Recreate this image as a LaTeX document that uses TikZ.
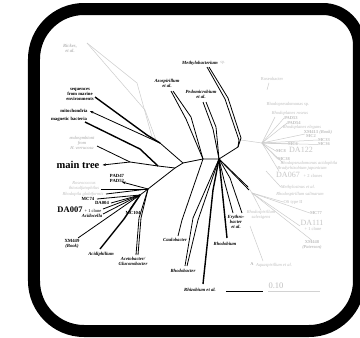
\documentclass[tikz,border=0pt]{standalone}
\usepackage{fontspec}
\setmainfont{Liberation Serif}
\usetikzlibrary{arrows.meta}
\tikzset{
  lb/.style={font=\fontsize{4.7}{5}\selectfont\bfseries\itshape, inner sep=0pt, align=center},
  lbr/.style={font=\fontsize{4.7}{5}\selectfont\bfseries, inner sep=0pt, align=center},
  glb/.style={font=\fontsize{4.5}{4.8}\selectfont\itshape, inner sep=0pt, align=center, text=gray!50},
  glr/.style={font=\fontsize{4.5}{4.8}\selectfont\bfseries, inner sep=0pt, align=center, text=gray!50},
  gln/.style={font=\fontsize{4.5}{4.8}\selectfont, inner sep=0pt, align=center, text=gray!50},
  big/.style={font=\fontsize{8.5}{8.5}\selectfont\bfseries, inner sep=0pt},
  gbig/.style={font=\fontsize{8}{8}\selectfont, inner sep=0pt, text=gray!45},
  br/.style={draw=black, line width=0.8pt},
  thk/.style={draw=black, line width=1.4pt},
  gbr/.style={draw=gray!40, line width=0.5pt},
  arr/.style={draw=black, line width=0.8pt, -{Stealth[length=3.5pt,width=2.6pt]}},
  framebox/.style={line width=12pt, draw=black},
}
\begin{document}
\begin{tikzpicture}[x=1pt,y=-1pt]
\useasboundingbox (0,0) rectangle (360,338);
\fill[white] (0,0) rectangle (360,338);
\begin{scope}
\clip (0,0) rectangle (360,338);
\draw[framebox] (84,9) -- (323,9) arc[start angle=-90,end angle=0,radius=36]
  -- (359,281) arc[start angle=0,end angle=90,radius=50]
  -- (84,331) arc[start angle=90,end angle=180,radius=50]
  -- (34,59) arc[start angle=180,end angle=270,radius=50] -- cycle;
\end{scope}

% hubs
\coordinate (R1) at (183,163);
\coordinate (R2) at (203,159);
\coordinate (R3) at (219,159);
\coordinate (UL) at (160,143);
\coordinate (LL) at (158,166);
\coordinate (L0) at (175,168);
\coordinate (LP) at (148,189);
\coordinate (LQ) at (140,195);
\coordinate (J) at (130,162);
\coordinate (M1) at (238,147);
\coordinate (E1) at (248,187);
\coordinate (E2) at (249,190);
\coordinate (GA) at (262,143);
\coordinate (GB) at (252,193);

\draw[br] (UL) -- (R1) -- (R2) -- (R3);
\draw[br] (LL) -- (L0) -- (R1);
\draw[br] (L0) -- (LP) -- (LQ);

% left labels
\node[lb, text=gray!55] (rick) at (70,48) {Rickes,\\et al.};
\node[lbr] (seq) at (80,94) {sequences\\from marine\\environments};
\node[lbr] (mito) at (74,111) {mitochondria};
\node[lbr] (magn) at (69,119) {magnetic bacteria};
\node[glb, text=gray!70] (endo) at (82,143) {endosymbiont\\from\\H. verrucosa};
\node[font=\fontsize{10.5}{11}\selectfont\bfseries, inner sep=0pt] (main) at (78,165) {main tree};

\draw[gbr] (87,43) -- (137,83) -- (152,137) -- (UL);
\draw[gbr] (87,43) -- (145,110) -- (156,140) -- (UL);
\draw[thk] (95,97) -- (147,135) -- (UL);
\draw[arr] (UL) -- ([xshift=2pt]mito.east);
\draw[thk] (85,122) -- (140,149) -- (LL);
\draw[br] (97,146) -- (J);
\draw[br] (J) -- (LL);
\draw[arr] (J) -- ([xshift=3pt]main.east);

% upper labels
\node[lb] (azo) at (167,83) {Azospirillum\\et al.};
\draw[br] (171,91) -- (186,119) -- (R2);
\draw[br] (173,91) -- (191,117) -- (R2);
\node[lb] (pedo) at (201,94) {Pedomicrobium\\et al.};
\draw[br] (203,102) -- (213,129) -- (R3);
\draw[br] (206,102) -- (216,127) -- (R3);
\node[lb] (meth) at (200,63) {Methylobacterium};
\node[gln] (methg) at (223,63) {sp.};
\draw[br] (207,67) -- (225,99) -- (239,140) -- (M1) -- (R3);
\draw[br] (209,67) -- (228,98) -- (241,138) -- (M1);

% lower left
\node[lbr] (pad) at (117,178) {PAD47\\PAD52};
\draw[arr] (LP) -- (122,182);
\node[glb] (roseo) at (84,186) {Roseococcus\\thiosulfatophilus};
\draw[br] (LP) -- (101,189);
\node[glb] (rhpila) at (83,194) {Rhodopila globiformis};
\draw[br] (LP) -- (106,194);
\node[lbr] (mc74) at (88,199) {MC74};
\draw[br] (LQ) -- (97,199);
\node[lbr] (da004) at (102,203) {DA004};
\draw[br] (LQ) -- (111,203);
\node[big] (da007) at (70,210) {DA007};
\node[font=\fontsize{4.5}{4.8}\selectfont, inner sep=0pt] (clone1) at (93,210.5) {+ 1 clone};
\draw[br] (LQ) -- (103,209);
\node[lb] (acido) at (92,216) {Acidocella};
\draw[br] (LQ) -- (103,214);
\node[lbr] (mc104) at (133,213) {MC104};
\draw[br] (LQ) -- (130,209);
\node[lbr] (xm449) at (72,244) {XM449\\\textit{(Book)}};
\draw[br] (LQ) -- (78,238);
\node[lb] (acidi) at (101,254) {Acidiphilium};
\draw[thk] (100,249) -- (124,219) -- (LQ);
\node[lb] (aceto) at (133,261) {Acetobacter/\\Gluconobacter};
\draw[br] (136,255) -- (139,218) -- (LP);
\draw[br] (138,255) -- (141,218) -- (LP);

% bottom
\node[lb] (caulo) at (175,240) {Caulobacter};
\draw[br] (178,236) -- (182,220) -- (R2);
\node[lb] (rhodob) at (183,271) {Rhodobacter};
\draw[br] (185,266) -- (193,218) -- (R3);
\draw[br] (187,266) -- (198,220) -- (R3);
\node[lb] (rhizo) at (200,290) {Rhizobium et al.};
\draw[thk] (203,284) -- (213,190) -- (R3);
\node[lb] (rhodobium) at (225,244) {Rhodobium};
\draw[thk] (227,238) -- (R3);
\node[lb] (ery) at (236,222) {Erythro-\\bacter\\et al.};
\draw[br] (233,213) -- (224,180) -- (R3);
\draw[br] (242,213) -- (230,178) -- (R3);
\draw[br] (R3) -- (E1);
\draw[br] (R3) -- (E2);

% grey right part
\node[gln] (roseob) at (272,79) {Roseobacter};
\draw[gbr] (roseob.south) ++(-3,2) -- ++(-2,7);
\draw[gbr] (241,140) -- (GA);
\node[gln] (rps) at (288,104) {Rhodopseudomonas sp.};
\node[glb] (rrose) at (290,113) {Rhodoplanes roseus};
\node[glr] (pad53) at (291,118) {PAD53};
\node[glr] (pad54) at (294,123) {PAD54};
\node[glb] (releg) at (302,127) {Rhodoplanes elegans};
\node[glr] (xm413) at (318,132) {XM413 \textit{(Book)}};
\node[glr] (mc2) at (311,136.5) {MC2};
\node[glr] (mc33) at (324,140) {MC33};
\node[glr] (mc36) at (324,144.5) {MC36};
\node[glr] (mc6) at (293,144) {MC6};
\node[glr] (mc8) at (281,151) {MC8};
\node[gbig] (da122) at (301,150) {DA122};
\node[glr] (mc38) at (284,159) {MC38};
\node[glb] (racid) at (309,163) {Rhodopseudomonas acidophila};
\node[glb] (brady) at (302,168) {Bradyrhizobium japonicum};
\node[gbig] (da067) at (288,175) {DA067};
\node[gln] (cl2) at (313,176) {+ 2 clones};
\draw[gbr] (GA) -- (275,117);
\draw[gbr] (GA) -- (pad53.west);
\draw[gbr] (GA) -- (pad54.west);
\draw[gbr] (GA) -- (305,134);
\draw[gbr] (GA) -- (mc33.west);
\draw[gbr] (GA) -- (mc36.west);
\draw[gbr] (GA) -- (mc6.west);
\draw[gbr] (GA) -- (mc8.west);
\draw[gbr] (GA) -- (mc38.west);
\draw[gbr] (GA) -- (283,163);
\draw[gbr] (GA) -- (279,171);

\draw[gbr] (E1) -- (GB);
\node[glb] (methsin) at (298,187) {Methylosinus et al.};
\node[glb] (rsal) at (300,194) {Rhodospirillum salinarum};
\node[gln] (ostype) at (293,202) {OS type II};
\node[glr] (mc77) at (316,213) {MC77};
\node[glb] (rsalex) at (261,215) {Rhodospirillum\\salexigens};
\node[gbig] (da111) at (312,223) {DA111};
\node[gln] (cl1b) at (313,229) {+ 1 clone};
\node[glr] (xm448) at (312,245) {XM448\\\textit{(Paterson)}};
\node[glb] (aqua) at (274,265) {Aquaspirillum et al.};
\node[font=\fontsize{4.5}{4.8}\selectfont, inner sep=0pt, text=gray!80] (tri) at (252,264) {A};
\coordinate (MS) at (266,171);
\draw[gbr] (MS) -- (methsin.west);
\draw[gbr] (GB) -- (ostype.west);
\draw[gbr] (GB) -- (mc77.west);
\draw[gbr] (GB) -- (300,226);
\draw[gbr] (GB) -- (xm448.north);
\draw[gbr] (GB) -- (rsalex.north);
\coordinate (AQ) at (250,226);
\draw[gbr] (AQ) -- (263,261);

% scale bar
\coordinate (sb1) at (226,291);
\coordinate (sb2) at (263,291);
\coordinate (sb3) at (268,291);
\coordinate (sb4) at (320,291);
\draw[line width=1pt] (sb1) -- (sb2);
\draw[gray!35, line width=0.6pt] (sb3) -- (sb4);
\node[font=\fontsize{8.5}{8.5}\selectfont, inner sep=0pt, text=gray!50] (scale) at (276,285.5) {0.10};
\end{tikzpicture}
\end{document}
